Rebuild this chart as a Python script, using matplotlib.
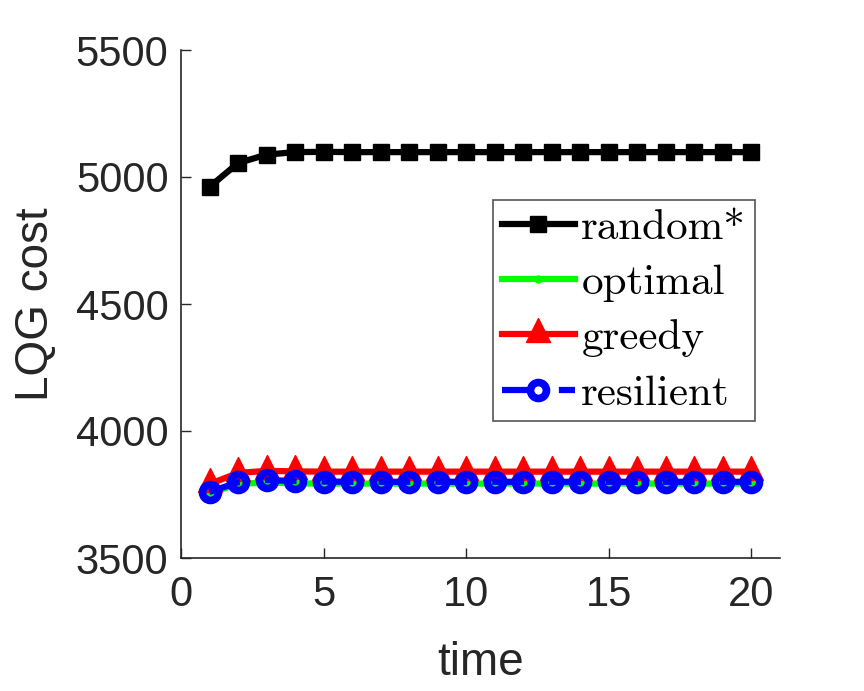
import numpy as np
import matplotlib
matplotlib.use('Agg')
import matplotlib.pyplot as plt

# values
t = np.arange(1, 21)
random_cost = [4961, 5055, 5088, 5098, 5099, 5098, 5098, 5098, 5098, 5098,
               5098, 5098, 5098, 5098, 5098, 5098, 5098, 5098, 5098, 5098]
optimal_cost = [3755, 3792, 3797, 3794, 3793, 3793, 3793, 3793, 3793, 3793,
                3793, 3793, 3793, 3793, 3793, 3793, 3793, 3793, 3793, 3793]
greedy_cost = [3791, 3835, 3843, 3841, 3840, 3840, 3840, 3840, 3840, 3840,
               3840, 3840, 3840, 3840, 3840, 3840, 3840, 3840, 3840, 3840]
resilient_cost = [3760, 3798, 3807, 3803, 3801, 3800, 3800, 3800, 3800, 3800,
                  3800, 3800, 3800, 3800, 3800, 3800, 3800, 3800, 3800, 3800]

plt.rcParams['font.family'] = ['Liberation Sans', 'DejaVu Sans']

# triangle centred on its centroid, like the MATLAB marker
tri = [(0, 1), (-0.75, -0.5), (0.75, -0.5), (0, 1)]

fig = plt.figure(figsize=(8.64, 6.91), dpi=100)
ax = fig.add_axes([181/864, 1-558/691, (780-181)/864, (558-50)/691])

lw = 4.5
ax.plot(t, random_cost, '-s', color='black', lw=lw, ms=12, label='random*')
ax.plot(t, optimal_cost, '-o', color='#00ff00', lw=lw, ms=5, label='optimal')
ax.plot(t, greedy_cost, '-', marker=tri, color='red', lw=lw, ms=23,
        label='greedy')
ax.plot(t, resilient_cost, '-o', color='blue', lw=lw, ms=11.5, mew=5.5,
        mfc='none', dashes=[5.1, 4.0], label='resilient')

ax.set_xlim(0, 21)
ax.set_ylim(3500, 5500)
ax.set_xticks([0, 5, 10, 15, 20])
ax.set_yticks([3500, 4000, 4500, 5000, 5500])
ax.tick_params(direction='in', labelsize=30, length=7, width=1,
               colors='#262626')
ax.tick_params(axis='x', pad=12)
ax.tick_params(axis='y', pad=9)
for s in ['top', 'right']:
    ax.spines[s].set_visible(False)
for s in ['left', 'bottom']:
    ax.spines[s].set_linewidth(1.2)
    ax.spines[s].set_color('#262626')

ax.set_xlabel('time', fontsize=33, color='#262626', labelpad=19)
ax.set_ylabel('LQG cost', fontsize=33, color='#262626', labelpad=13)

leg = ax.legend(loc='upper left', bbox_to_anchor=((493-181)/599, (558-200)/508),
                prop={'family': 'cmr10', 'size': 31}, fancybox=False,
                edgecolor='#555555', framealpha=1, handlelength=1.7,
                handletextpad=0.15, borderpad=0.2, labelspacing=0.4,
                borderaxespad=0)
leg.get_frame().set_linewidth(1.2)

fig.savefig('out.png', dpi=100)
